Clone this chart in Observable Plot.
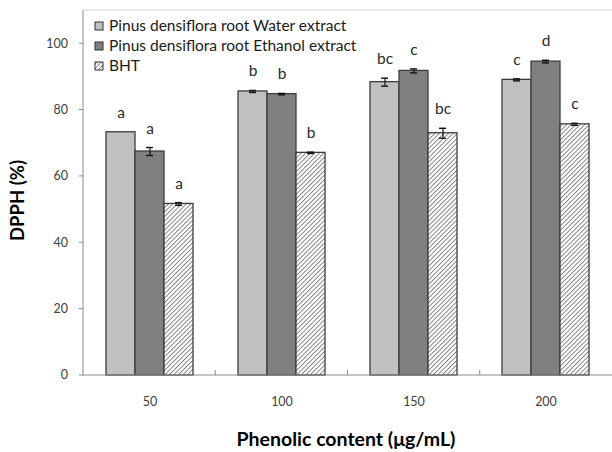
<!DOCTYPE html>
<html><head><meta charset="utf-8">
<script src="https://cdn.jsdelivr.net/npm/d3@7"></script>
<script src="https://cdn.jsdelivr.net/npm/@observablehq/plot@0.6"></script>
<style>
html,body{margin:0;padding:0;background:#fff;}
#chart{position:relative;width:612px;height:452px;overflow:hidden;}
</style></head><body><div id="chart"></div>
<script>
const concentrations = ["50", "100", "150", "200"];
const seriesNames = ["Pinus densiflora root Water extract", "Pinus densiflora root Ethanol extract", "BHT"];
const waterValues = [73.3, 85.6, 88.4, 89.1];
const waterErrors = [0, 0.3, 1.2, 0.3];
const waterLetters = ["a", "b", "bc", "c"];
const ethanolValues = [67.5, 84.8, 91.8, 94.6];
const ethanolErrors = [1.2, 0.2, 0.6, 0.4];
const ethanolLetters = ["a", "b", "c", "d"];
const bhtValues = [51.7, 67.1, 73.0, 75.7];
const bhtErrors = [0.4, 0.2, 1.5, 0.3];
const bhtLetters = ["a", "b", "bc", "c"];
const yTicks = [0, 20, 40, 60, 80, 100];
const seriesFills = ["#c0c0c0", "#808080", "url(#bht-hatch)"];
const xTitle = "Phenolic content (μg/mL)";
const yTitle = "DPPH (%)";

const table = [];
[[waterValues, waterErrors, waterLetters], [ethanolValues, ethanolErrors, ethanolLetters], [bhtValues, bhtErrors, bhtLetters]]
  .forEach(([vals, errs, lets], si) => concentrations.forEach((c, ci) => table.push({
    conc: c, series: seriesNames[si], value: vals[ci], err: errs[ci], letter: lets[ci]
  })));

const font = "Lato, 'Open Sans', sans-serif";
const plot = Plot.plot({
  width: 612, height: 452,
  marginLeft: 83, marginRight: 0, marginTop: 10, marginBottom: 77,
  style: {fontFamily: font, fontSize: "12.5px", color: "#404040", background: "white"},
  facet: {data: table, x: "conc", label: null},
  fx: {domain: concentrations, paddingInner: 0.34, paddingOuter: 0.17, tickSize: 0, tickPadding: 22, label: null},
  x: {domain: seriesNames, padding: 0, axis: null},
  y: {domain: [0, 110], axis: null},
  color: {domain: seriesNames, range: seriesFills},
  marks: [
    Plot.barY(table, {x: "series", y: "value", fill: "series", stroke: "#3c3c3c", strokeWidth: 1.3}),
    Plot.ruleX(table, {x: "series", y1: d => d.value - d.err, y2: d => d.value + d.err, stroke: "#111", strokeWidth: 1.2, strokeOpacity: d => d.err > 0 ? 1 : 0}),
    Plot.tickY(table, {x: "series", y: d => d.value + d.err, insetLeft: 11, insetRight: 11, stroke: "#111", strokeWidth: 1.4, strokeOpacity: d => d.err > 0 ? 1 : 0}),
    Plot.tickY(table, {x: "series", y: d => d.value - d.err, insetLeft: 11, insetRight: 11, stroke: "#111", strokeWidth: 1.4, strokeOpacity: d => d.err > 0 ? 1 : 0}),
    Plot.text(table, {x: "series", y: d => d.value + d.err, text: "letter", dy: -19, fontSize: 15.5, fill: "#2a2a2a"})
  ]
});

document.getElementById("chart").appendChild(plot);
const svg = d3.select(plot.tagName.toLowerCase() === "svg" ? plot : plot.querySelector("svg"));

// pattern for BHT hatch
const defs = svg.insert("defs", ":first-child");
const pat = defs.append("pattern").attr("id", "bht-hatch").attr("patternUnits", "userSpaceOnUse")
  .attr("width", 3.2).attr("height", 3.2).attr("patternTransform", "rotate(45)");
pat.append("rect").attr("width", 3.2).attr("height", 3.2).attr("fill", "#fff");
pat.append("line").attr("x1", 0.5).attr("y1", 0).attr("x2", 0.5).attr("y2", 3.2).attr("stroke", "#6a6a6a").attr("stroke-width", 0.8);

// scales from Plot
const ys = plot.scale("y");
const yScale = d3.scaleLinear(ys.domain, ys.range);
const fxs = plot.scale("fx");
const fxRange = fxs.range || [83, 612];
const fxScale = d3.scaleBand(fxs.domain, fxRange).paddingInner(fxs.paddingInner ?? 0.34).paddingOuter(fxs.paddingOuter ?? 0.17).align(fxs.align ?? 0.5);
const [xLeft, xRight] = fxRange;
const y0 = yScale(0), yTop = yScale(110);

const g = svg.append("g").attr("text-anchor", "start");
// plot area top border
g.append("line").attr("x1", xLeft).attr("x2", xRight).attr("y1", yTop).attr("y2", yTop).attr("stroke", "#d4d4d4");
// y axis line
g.append("line").attr("x1", xLeft).attr("x2", xLeft).attr("y1", yTop).attr("y2", y0).attr("stroke", "#8a8a8a");
// x axis line
g.append("line").attr("x1", xLeft).attr("x2", xRight).attr("y1", y0).attr("y2", y0).attr("stroke", "#8a8a8a");
// y ticks and labels
yTicks.forEach(t => {
  g.append("line").attr("x1", xLeft - 4).attr("x2", xLeft).attr("y1", yScale(t)).attr("y2", yScale(t)).attr("stroke", "#8a8a8a");
  g.append("text").attr("x", xLeft - 15).attr("y", yScale(t)).attr("dy", "0.35em").attr("text-anchor", "end")
    .attr("font-family", font).attr("font-size", 12.5).attr("fill", "#404040").text(t);
});
// separator ticks between categories
const step = fxScale.step(), bw = fxScale.bandwidth();
concentrations.slice(0, -1).forEach(c => {
  const xs = fxScale(c) + bw + (step - bw) / 2;
  g.append("line").attr("x1", xs).attr("x2", xs).attr("y1", y0).attr("y2", y0 - 5).attr("stroke", "#8a8a8a");
});
// axis titles
g.append("text").attr("x", 346).attr("y", 446).attr("text-anchor", "middle")
  .attr("font-family", font).attr("font-weight", "bold").attr("font-size", 19.5).attr("fill", "#000").text(xTitle);
g.append("text").attr("transform", `translate(24,${(yTop + y0) / 2 + 8}) rotate(-90)`).attr("text-anchor", "middle")
  .attr("font-family", font).attr("font-weight", "bold").attr("font-size", 18.5).attr("fill", "#000").text(yTitle);
// legend
const color = plot.scale("color");
seriesNames.forEach((name, i) => {
  const cy = 26 + i * 20;
  g.append("rect").attr("x", xLeft + 12).attr("y", cy - 4).attr("width", 8).attr("height", 8)
    .attr("fill", color.range[i]).attr("stroke", "#333").attr("stroke-width", 1);
  g.append("text").attr("x", xLeft + 26).attr("y", cy).attr("dy", "0.35em").attr("text-anchor", "start")
    .attr("font-family", font).attr("font-size", 15.5).attr("fill", "#1a1a1a").text(name);
});
</script>
</body></html>
